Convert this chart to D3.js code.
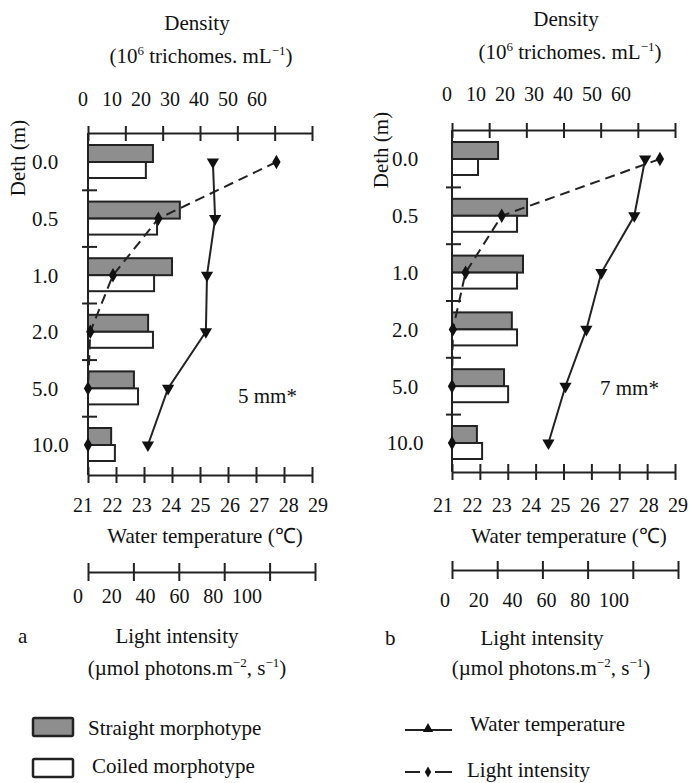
<!DOCTYPE html>
<html>
<head>
<meta charset="utf-8">
<script src="https://cdn.jsdelivr.net/npm/d3@7"></script>
<style>
body { margin: 0; background: #fff; }
text { font-family: "Liberation Serif", "Times New Roman", serif; fill: #111; }
</style>
</head>
<body>
<svg id="chart" width="690" height="783"></svg>
<script>
// depth profile, two panels (a = 5 mm, b = 7 mm)
var depths = ["0.0", "0.5", "1.0", "2.0", "5.0", "10.0"];
var densityTicks = [0, 10, 20, 30, 40, 50, 60];
var tempTicks = [21, 22, 23, 24, 25, 26, 27, 28, 29];
var lightTicks = [0, 20, 40, 60, 80, 100];

var straightA = [17.4, 24.6, 22.5, 16.1, 12.3, 6.2];
var coiledA   = [15.5, 18.5, 17.7, 17.4, 13.4, 7.2];
var tempA     = [25.46, 25.54, 25.25, 25.21, 23.86, 23.14];
var lightA    = [83, 31, 11, 1, 0, 0];

var straightB = [12.4, 20.2, 19.1, 16.1, 14.0, 6.7];
var coiledB   = [7.0, 17.5, 17.5, 17.5, 15.1, 8.1];
var tempB     = [27.93, 27.54, 26.36, 25.82, 25.07, 24.46];
var lightB    = [92, 22, 6, 0.4, 0, 0];

var barLegend = ["Straight morphotype", "Coiled morphotype"];
var lineLegend = ["Water temperature", "Light intensity"];

var svg = d3.select("#chart");
var ink = "#222";
var fs = "21px";

function drawPanel(p) {
    var g = svg.append("g");

    var xDens = d3.scaleLinear().domain([0, 60]).range([p.x0, p.x1]);
    var xTemp = d3.scaleLinear().domain([21, 29]).range([p.x0, p.x1]);
    var xLight = d3.scaleLinear().domain([0, 100]).range([p.x0, p.lx1]);
    var y = d3.scalePoint().domain(depths).range(p.yRange);

    // tick labels in the original are offset from the tick marks
    var densLab = d3.scalePoint().domain(densityTicks).range(p.densLab);
    var tempLab = d3.scalePoint().domain(tempTicks).range(p.tempLab);
    var lightLab = d3.scalePoint().domain(lightTicks).range(p.lightLab);

    function crossTicks(sel, up, down) {
        sel.select(".domain").attr("stroke", ink).attr("stroke-width", 2);
        sel.selectAll(".tick line").attr("stroke", ink).attr("stroke-width", 2)
            .attr("y1", -up).attr("y2", down);
        sel.selectAll(".tick text").remove();
    }

    // top density axis
    g.append("g").attr("transform", "translate(0," + p.topY + ")")
        .call(d3.axisBottom(xDens).tickValues(densityTicks).tickSizeOuter(0))
        .call(crossTicks, 7, 8);
    g.append("g").selectAll("text").data(densityTicks).enter().append("text")
        .attr("x", d => densLab(d)).attr("y", p.densLabY)
        .attr("text-anchor", "middle").style("font-size", "20px").text(d => d);

    // bottom temperature axis
    g.append("g").attr("transform", "translate(0," + p.botY + ")")
        .call(d3.axisBottom(xTemp).tickValues(tempTicks).tickSizeOuter(0))
        .call(crossTicks, 8, 8);
    g.append("g").selectAll("text").data(tempTicks).enter().append("text")
        .attr("x", d => tempLab(d)).attr("y", 512)
        .attr("text-anchor", "middle").style("font-size", "20px").text(d => d);

    // light axis
    g.append("g").attr("transform", "translate(0," + p.lightY + ")")
        .call(d3.axisBottom(xLight).tickValues(lightTicks).tickSizeOuter(0))
        .call(crossTicks, 9, 9);
    g.append("g").selectAll("text").data(lightTicks).enter().append("text")
        .attr("x", d => lightLab(d)).attr("y", p.lightLabY)
        .attr("text-anchor", "middle").style("font-size", "20px").text(d => d);

    // depth axis
    g.append("line").attr("x1", p.x0).attr("x2", p.x0)
        .attr("y1", p.topY).attr("y2", p.botY)
        .attr("stroke", ink).attr("stroke-width", 2);
    var half = y.step() / 2;
    g.append("g").selectAll("line").data(depths.slice(0, -1)).enter().append("line")
        .attr("x1", p.x0 - 6).attr("x2", p.x0 + 9)
        .attr("y1", d => y(d) + half).attr("y2", d => y(d) + half)
        .attr("stroke", ink).attr("stroke-width", 2);
    g.append("g").selectAll("text").data(depths).enter().append("text")
        .attr("x", p.depthLabX).attr("y", d => y(d))
        .attr("dy", "0.35em").attr("text-anchor", p.depthAnchor)
        .style("font-size", fs).text(d => d);

    // bars
    var barH = 17;
    g.append("g").selectAll("rect").data(p.straight).enter().append("rect")
        .attr("x", p.x0).attr("y", (d, i) => y(depths[i]) - barH)
        .attr("width", d => xDens(d) - p.x0).attr("height", barH)
        .attr("fill", "#8e8e8e").attr("stroke", ink).attr("stroke-width", 2);
    g.append("g").selectAll("rect").data(p.coiled).enter().append("rect")
        .attr("x", p.x0).attr("y", (d, i) => y(depths[i]))
        .attr("width", d => xDens(d) - p.x0).attr("height", barH - 1)
        .attr("fill", "#fff").attr("stroke", ink).attr("stroke-width", 2);

    // light intensity, dashed with diamonds
    var lightLine = d3.line().x(d => xLight(d)).y((d, i) => y(depths[i]));
    g.append("path").datum(p.light).attr("d", lightLine)
        .attr("fill", "none").attr("stroke", ink).attr("stroke-width", 2)
        .attr("stroke-dasharray", "10,6");
    g.append("g").selectAll("path").data(p.light).enter().append("path")
        .attr("d", d3.symbol().type(d3.symbolDiamond).size(60))
        .attr("transform", (d, i) => "translate(" + xLight(d) + "," + y(depths[i]) + ")")
        .attr("fill", "#111");

    // water temperature, solid with triangles
    var tempLine = d3.line().x(d => xTemp(d)).y((d, i) => y(depths[i]));
    g.append("path").datum(p.temp).attr("d", tempLine)
        .attr("fill", "none").attr("stroke", ink).attr("stroke-width", 2);
    g.append("g").selectAll("path").data(p.temp).enter().append("path")
        .attr("d", d3.symbol().type(d3.symbolTriangle).size(65))
        .attr("transform", (d, i) => "translate(" + xTemp(d) + "," + y(depths[i]) + ") rotate(180)")
        .attr("fill", "#111");

    // titles
    g.append("text").attr("x", p.titleX).attr("y", p.densTitleY)
        .attr("text-anchor", "middle").style("font-size", fs).text("Density");
    var unit = g.append("text").attr("x", p.titleX + 4).attr("y", p.densTitleY + 33)
        .attr("text-anchor", "middle").style("font-size", fs);
    unit.append("tspan").text("(10");
    unit.append("tspan").attr("dy", -8).style("font-size", "13px").text("6");
    unit.append("tspan").attr("dy", 8).text(" trichomes. mL");
    unit.append("tspan").attr("dy", -8).style("font-size", "13px").text("\u22121");
    unit.append("tspan").attr("dy", 8).text(")");

    g.append("text")
        .attr("transform", "translate(" + p.dethX + "," + p.dethY + ") rotate(-90)")
        .attr("text-anchor", "middle").attr("dy", "0.35em")
        .style("font-size", fs).text("Deth (m)");

    g.append("text").attr("x", p.x0 + 117).attr("y", 543)
        .attr("text-anchor", "middle").style("font-size", fs).text("Water temperature (\u2103)");

    g.append("text").attr("x", p.lightTitleX).attr("y", p.lightTitleY)
        .attr("text-anchor", "middle").style("font-size", fs).text("Light intensity");
    var lu = g.append("text").attr("x", p.lightUnitX).attr("y", 675)
        .attr("text-anchor", "middle").style("font-size", fs);
    lu.append("tspan").text("(\u00b5mol photons.m");
    lu.append("tspan").attr("dy", -8).style("font-size", "13px").text("\u22122");
    lu.append("tspan").attr("dy", 8).text(", s");
    lu.append("tspan").attr("dy", -8).style("font-size", "13px").text("\u22121");
    lu.append("tspan").attr("dy", 8).text(")");

    g.append("text").attr("x", p.letterX).attr("y", p.lightTitleY)
        .style("font-size", fs).text(p.letter);
    g.append("text").attr("x", p.mmX).attr("y", p.mmY)
        .style("font-size", fs).text(p.mm);
}

drawPanel({
    x0: 88, x1: 312, lx1: 315, topY: 133, botY: 475, lightY: 572,
    yRange: [162, 445],
    densLab: [83, 257], densLabY: 106,
    tempLab: [83, 318],
    lightLab: [78, 247], lightLabY: 603,
    depthLabX: 32, depthAnchor: "start",
    straight: straightA, coiled: coiledA, temp: tempA, light: lightA,
    titleX: 197, densTitleY: 30,
    dethX: 18, dethY: 158,
    lightTitleX: 177, lightTitleY: 643, lightUnitX: 187,
    letter: "a", letterX: 18, mm: "5 mm*", mmX: 238, mmY: 403
});

drawPanel({
    x0: 452, x1: 675, lx1: 678, topY: 130, botY: 472, lightY: 570,
    yRange: [159, 443],
    densLab: [447, 621], densLabY: 101,
    tempLab: [443, 678],
    lightLab: [445, 614], lightLabY: 607,
    depthLabX: 405, depthAnchor: "middle",
    straight: straightB, coiled: coiledB, temp: tempB, light: lightB,
    titleX: 566, densTitleY: 26,
    dethX: 381, dethY: 150,
    lightTitleX: 542, lightTitleY: 645, lightUnitX: 551,
    letter: "b", letterX: 385, mm: "7 mm*", mmX: 600, mmY: 395
});

// legend
var lg = svg.append("g");
lg.selectAll("rect").data(barLegend).enter().append("rect")
    .attr("x", 33).attr("y", (d, i) => 718 + i * 41).attr("width", 40).attr("height", 18)
    .attr("rx", 1.5)
    .attr("fill", (d, i) => i === 0 ? "#8e8e8e" : "#fff")
    .attr("stroke", ink).attr("stroke-width", 2.5);
lg.selectAll("text.bar").data(barLegend).enter().append("text").attr("class", "bar")
    .attr("x", (d, i) => 88 + i * 4).attr("y", (d, i) => 735 + i * 38)
    .style("font-size", fs).text(d => d);

lg.append("line").attr("x1", 405).attr("x2", 452).attr("y1", 730).attr("y2", 730)
    .attr("stroke", ink).attr("stroke-width", 2);
lg.append("path").attr("d", d3.symbol().type(d3.symbolTriangle).size(45))
    .attr("transform", "translate(428,729)").attr("fill", "#111");
lg.append("line").attr("x1", 405).attr("x2", 452).attr("y1", 772).attr("y2", 772)
    .attr("stroke", ink).attr("stroke-width", 2).attr("stroke-dasharray", "15,15,17");
lg.append("path").attr("d", d3.symbol().type(d3.symbolDiamond).size(35))
    .attr("transform", "translate(428,772)").attr("fill", "#111");
lg.selectAll("text.line").data(lineLegend).enter().append("text").attr("class", "line")
    .attr("x", (d, i) => 470 - i * 3).attr("y", (d, i) => 731 + i * 46)
    .style("font-size", fs).text(d => d);
</script>
</body>
</html>
